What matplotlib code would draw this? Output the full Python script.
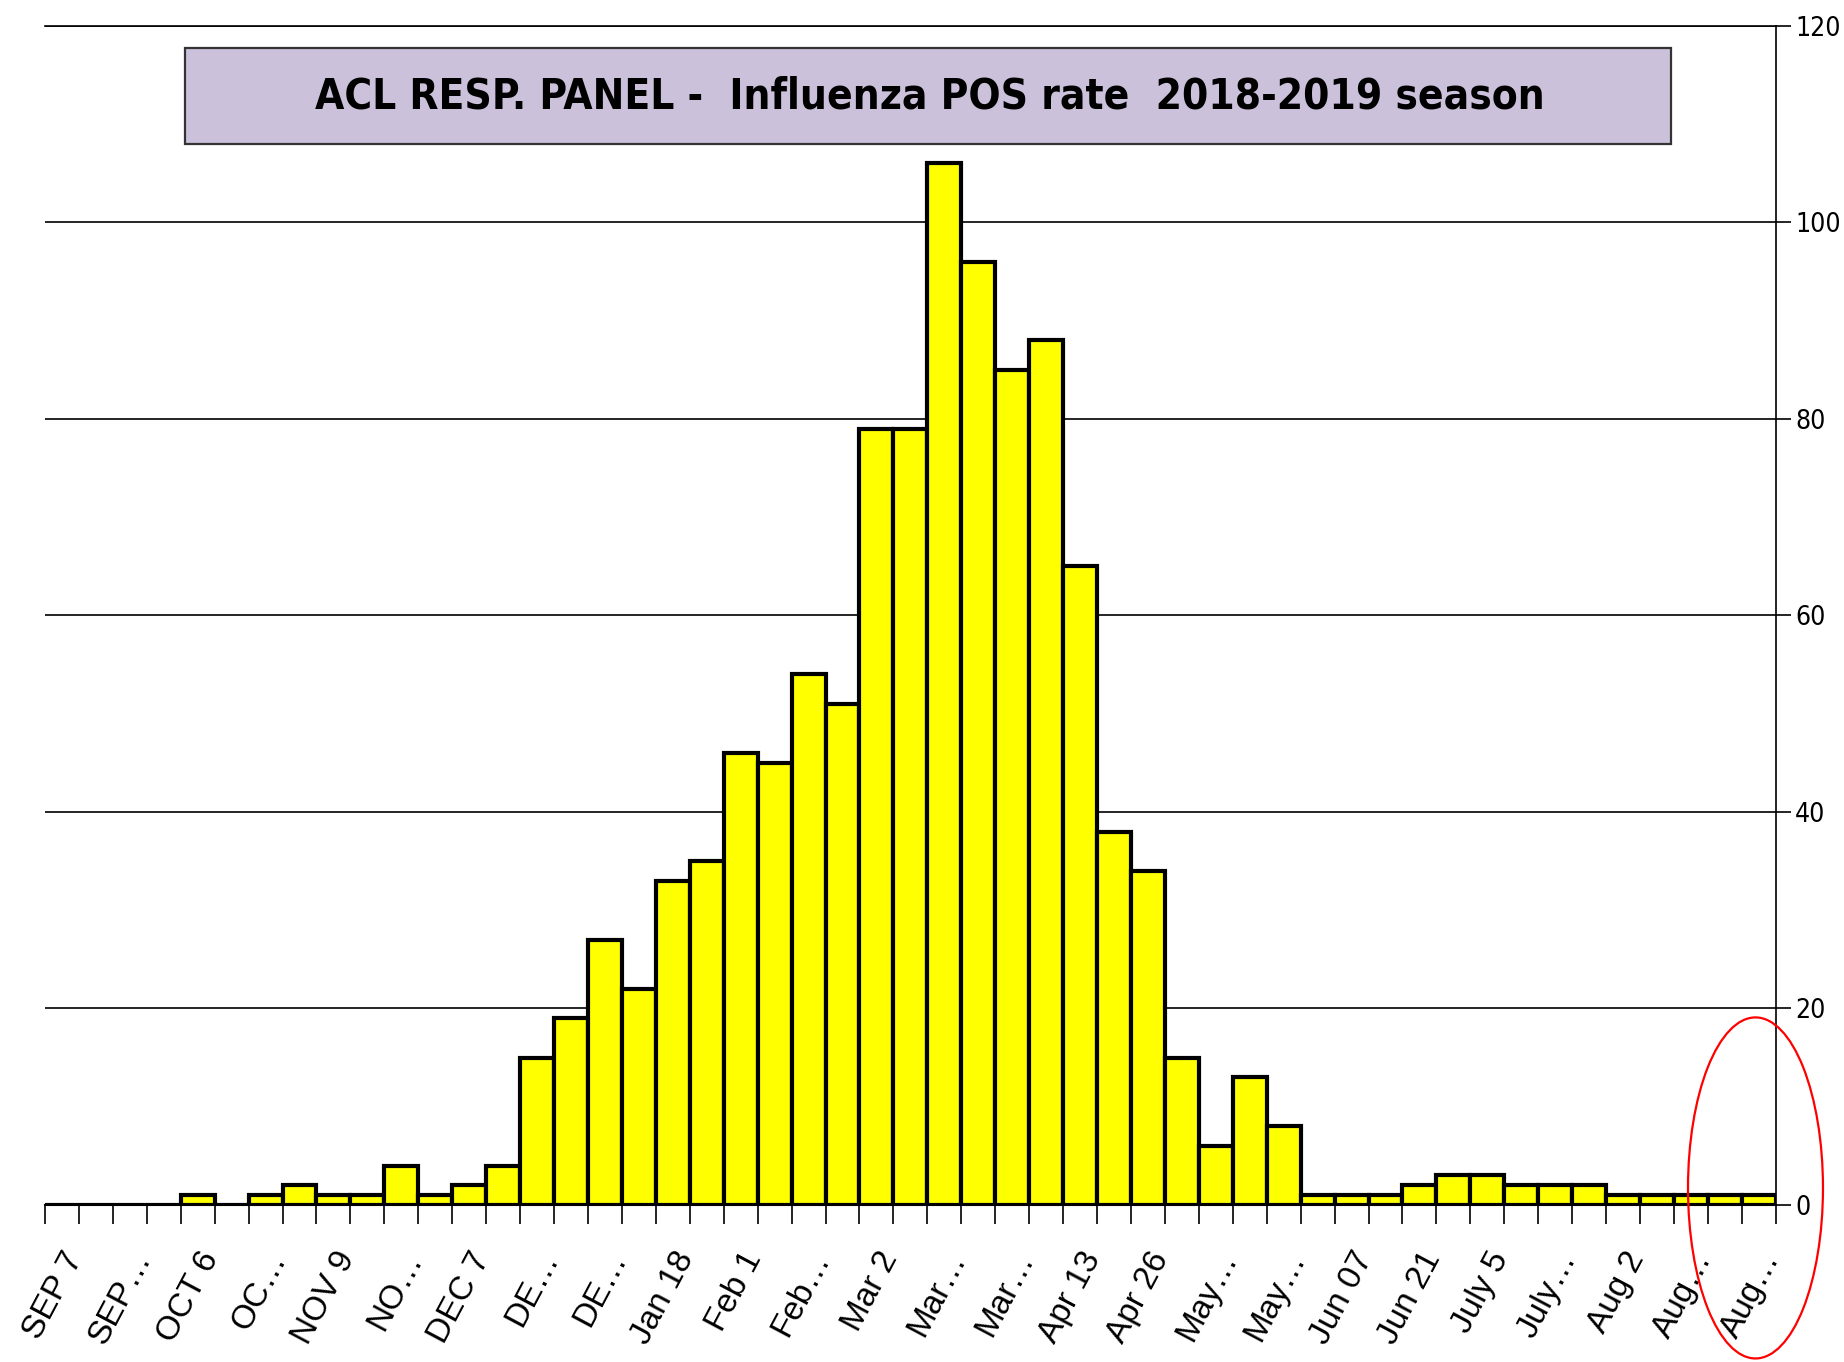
import matplotlib
matplotlib.use("Agg")
import matplotlib.pyplot as plt
from matplotlib.patches import Rectangle, Ellipse
import numpy as np

# weekly influenza positives, 2018-2019 season (51 weeks)
weeks = ["SEP 7", "", "SEP…", "", "OCT 6", "", "OC…", "", "NOV 9", "",
         "NO…", "", "DEC 7", "", "DE…", "", "DE…", "", "Jan 18", "",
         "Feb 1", "", "Feb…", "", "Mar 2", "", "Mar…", "", "Mar…", "",
         "Apr 13", "", "Apr 26", "", "May…", "", "May…", "", "Jun 07", "",
         "Jun 21", "", "July 5", "", "July…", "", "Aug 2", "", "Aug…", "",
         "Aug…"]
pos_counts = [0, 0, 0, 0, 1, 0, 1, 2, 1, 1,
              4, 1, 2, 4, 15, 19, 27, 22, 33, 35,
              46, 45, 54, 51, 79, 79, 106, 96, 85, 88,
              65, 38, 34, 15, 6, 13, 8, 1, 1, 1,
              2, 3, 3, 2, 2, 2, 1, 1, 1, 1,
              1]
y_ticks = [0, 20, 40, 60, 80, 100, 120]

fig = plt.figure(figsize=(18.44, 13.62), dpi=100)
ax = fig.add_axes([0.0244, 0.1153, 0.9386, 0.8657])

x = np.arange(len(pos_counts))
ax.bar(x, pos_counts, width=1.0, color="#FFFF00", edgecolor="black",
       linewidth=3.0, zorder=3)

ax.set_xlim(-0.5, len(pos_counts) - 0.5)
ax.set_ylim(0, 120)

# value axis on the right
ax.yaxis.tick_right()
ax.set_yticks(y_ticks)
ax.set_yticklabels([str(v) for v in y_ticks], fontsize=19, fontstretch="condensed")
ax.tick_params(axis="y", length=11, width=1.2, pad=3, direction="out")
ax.grid(True, axis="y", color="black", linewidth=1.2, zorder=0)

# ticks between weeks, labels on every other week
ax.set_xticks(np.arange(len(pos_counts) + 1) - 0.5)
ax.set_xticklabels([])
ax.tick_params(axis="x", which="major", length=14, width=1.2)
lab_pos = [i for i, w in enumerate(weeks) if w]
ax.set_xticks(lab_pos, minor=True)
ax.set_xticklabels([weeks[i] for i in lab_pos], minor=True, rotation=62,
                   ha="right", va="top", rotation_mode="anchor",
                   family=["Liberation Sans", "DejaVu Sans"], fontsize=24)
ax.tick_params(axis="x", which="minor", length=0, pad=30)

ax.spines["left"].set_visible(False)
ax.spines["top"].set_linewidth(1.2)
ax.spines["right"].set_linewidth(1.2)
ax.spines["bottom"].set_linewidth(1.5)

# title box
ax.add_patch(Rectangle((0.081, 0.900), 0.8585, 0.081, transform=ax.transAxes,
                       facecolor="#CCC1DB", edgecolor="#333333",
                       linewidth=1.6, zorder=5))
title = ax.text(0.511, 0.9405,
                "ACL RESP. PANEL -  Influenza POS rate  2018-2019 season",
                transform=ax.transAxes, ha="center", va="center",
                fontweight="bold", fontstretch="condensed", fontsize=50, zorder=6)
r = fig.canvas.get_renderer()
w = title.get_window_extent(r).width
if w > 1230:
    title.set_fontsize(50 * 1230 / w)

# red circle round the last weeks
fig.patches.append(Ellipse((0.952, 0.1278), 0.0732, 0.2504,
                           transform=fig.transFigure, fill=False,
                           edgecolor="red", linewidth=1.6))

fig.savefig("out.png", dpi=100)
